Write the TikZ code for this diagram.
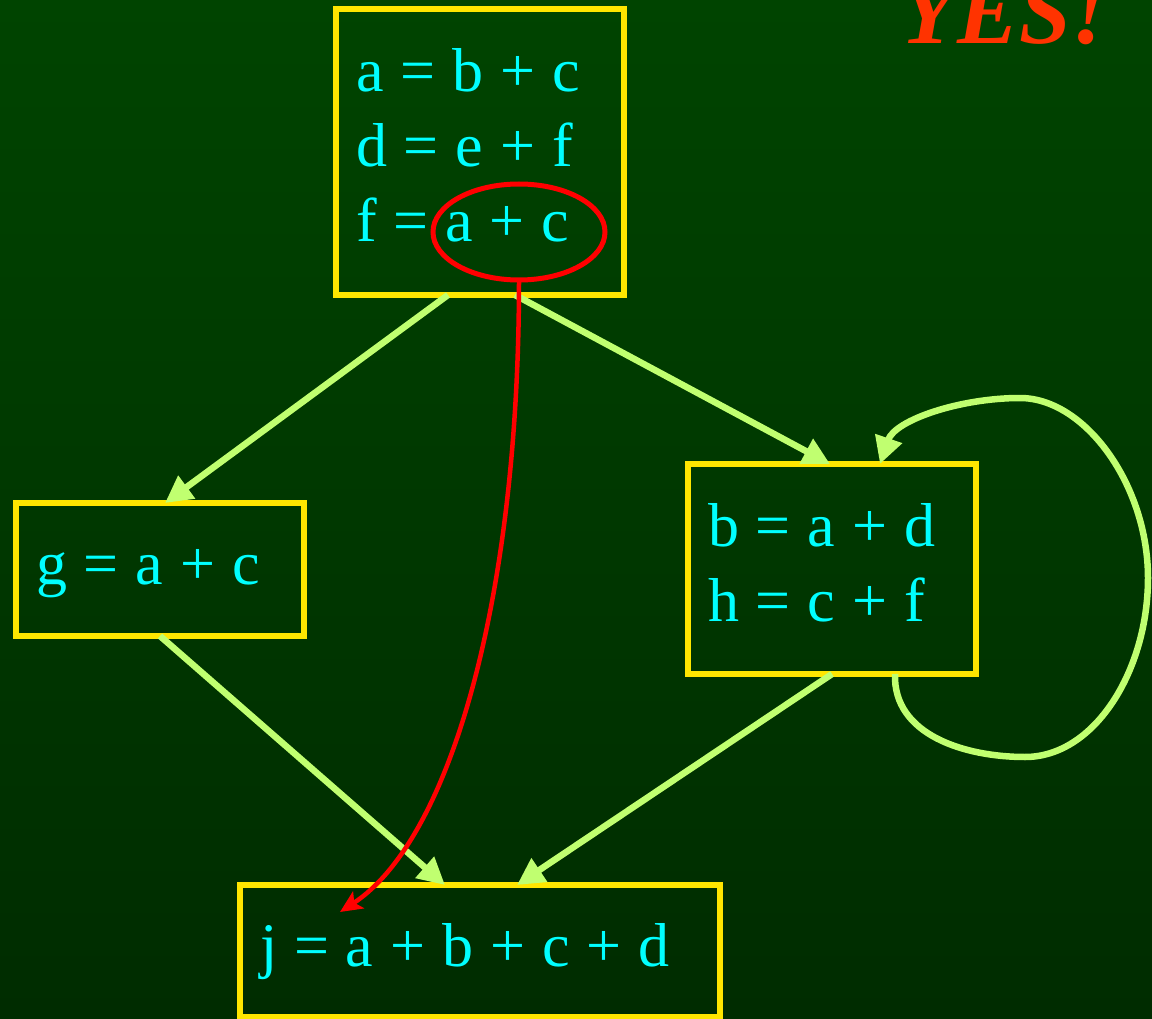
\documentclass[tikz,border=0pt]{standalone}
\usepackage{fontspec}
\setmainfont{Liberation Serif}
\usepackage{xcolor}
\usetikzlibrary{positioning,arrows.meta,shapes.geometric}

\definecolor{bgtop}{RGB}{0,68,0}
\definecolor{bgbot}{RGB}{0,44,0}
\definecolor{boxline}{RGB}{255,230,0}
\definecolor{flowgreen}{RGB}{192,255,112}
\definecolor{codecyan}{RGB}{0,255,255}
\definecolor{yesred}{RGB}{255,51,0}

\begin{document}
\begin{tikzpicture}[
    x=1pt, y=-1pt,
    blk/.style={
        rectangle,
        draw=boxline,
        line width=5.5pt,
        outer sep=0pt,
        inner xsep=20pt,
        inner ysep=0pt,
        align=left,
        text=codecyan,
        font=\fontsize{62}{75}\selectfont,
        execute at begin node={\spaceskip=16.9pt\relax\strut},
        execute at end node=\strut
    },
    hilite/.style={
        ellipse,
        draw=red,
        line width=5pt,
        outer sep=0pt,
        minimum width=172pt,
        minimum height=96pt
    },
    flow/.style={
        -{Triangle[length=27pt,width=27pt]},
        line width=6.5pt,
        draw=flowgreen
    },
    redflow/.style={
        -{Stealth[length=22pt,width=20pt,inset=5pt]},
        line width=4.5pt,
        draw=red
    }
]

% Background
\useasboundingbox (0,0) rectangle (1152,1019);
\shade[top color=bgtop, bottom color=bgbot] (0,0) rectangle (1152,1019);

% Blocks
\node[blk, text width=248pt, minimum height=286pt] (top) at (480,152)
    {a = b + c\\d = e + f\\f = a + c};
\node[blk, text width=248pt, minimum height=133pt] (gg) at (160,569.5)
    {g = a + c};
\node[blk, text width=248pt, minimum height=210pt] (bb) at (832,569)
    {b = a + d\\h = c + f};
\node[blk, text width=440pt, minimum height=132pt] (jj) at (480,951)
    {j = a + b + c + d};

% Highlight of a + c
\node[hilite] (hl) at (519,232) {};

% Label
\node[anchor=base west, text=yesred, font=\fontsize{93}{96}\selectfont\bfseries\itshape]
    (yes) at (897,44) {YES!};

% Connections
\draw[flow] ([xshift=-32pt]top.south) -- ([xshift=5pt]gg.north);
\draw[flow] ([xshift=35pt]top.south) -- ([xshift=-2pt]bb.north);
\draw[flow] (gg.south) -- ([xshift=-35pt]jj.north);
\draw[flow] (bb.south) -- ([xshift=37pt]jj.north);

% Loop on b block
\draw[flow] ([xshift=63pt]bb.south)
    .. controls (893,735) and (965,757) .. (1025,757)
    .. controls (1095,757) and (1148,670) .. (1148,578)
    .. controls (1148,485) and (1085,398) .. (1020,398)
    .. controls (960,398) and (895,420) .. ([xshift=48pt]bb.north);

% Reuse of a + c
\draw[redflow] (hl.south) .. controls (519,600) and (450,840) .. ([xshift=-140pt,yshift=39pt]jj.center);

\end{tikzpicture}
\end{document}
